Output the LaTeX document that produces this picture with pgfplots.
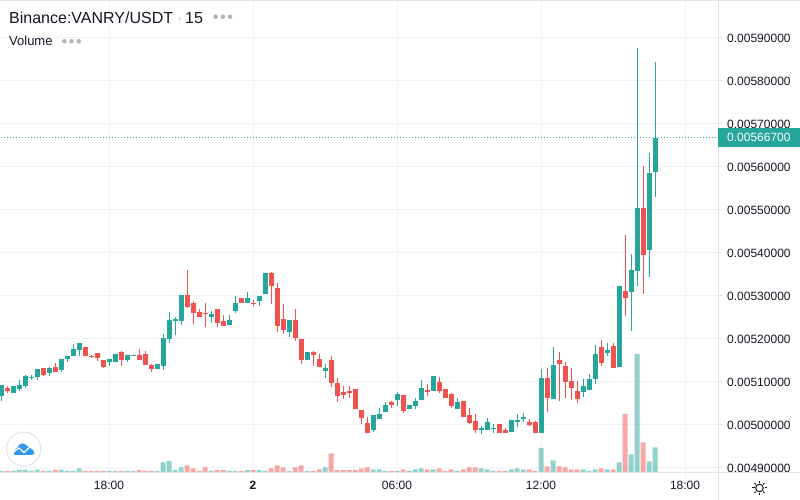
\documentclass[border=0pt]{standalone}
\usepackage{pgfplots}
\usepackage{pgfplotstable}
\usepackage{fontspec}
\usetikzlibrary{calc}
\setmainfont{Liberation Sans}
\pgfplotsset{compat=1.18}
\definecolor{up}{HTML}{26A69A}
\definecolor{down}{HTML}{EF5350}
\definecolor{gridc}{HTML}{F0F3FA}
\definecolor{borderc}{HTML}{E0E3EB}
\definecolor{txt}{HTML}{131722}
\definecolor{dots}{HTML}{B2B5BE}
\definecolor{logoc}{HTML}{3498EE}
\pgfplotstableread{
i top bot hi lo vol
0 0.0050930 0.0050674 0.0050930 0.0050558 1
2 0.0050907 0.0050744 0.0050907 0.0050744 1
3 0.0050930 0.0050837 0.0051047 0.0050791 2.3
4 0.0051140 0.0050907 0.0051163 0.0050860 2.3
5 0.0051116 0.0051093 0.0051163 0.0051047 1
6 0.0051302 0.0051116 0.0051302 0.0051047 2.3
8 0.0051326 0.0051209 0.0051349 0.0051140 1
10 0.0051535 0.0051279 0.0051535 0.0051233 2.3
11 0.0051605 0.0051535 0.0051605 0.0051465 1
12 0.0051767 0.0051605 0.0051884 0.0051605 1
13 0.0051907 0.0051744 0.0051907 0.0051605 3.5
18 0.0051535 0.0051465 0.0051535 0.0051372 1
19 0.0051651 0.0051465 0.0051651 0.0051465 1
21 0.0051628 0.0051512 0.0051628 0.0051465 1
22 0.0051628 0.0051605 0.0051628 0.0051605 1
26 0.0051419 0.0051302 0.0051419 0.0051302 1
27 0.0052023 0.0051372 0.0052116 0.0051279 9.5
28 0.0052442 0.0052000 0.0052628 0.0051907 11
29 0.0052465 0.0052419 0.0052512 0.0052093 2
30 0.0053023 0.0052419 0.0053023 0.0052326 4.5
35 0.0052581 0.0052512 0.0052651 0.0052372 1
38 0.0052442 0.0052326 0.0052558 0.0052326 1
39 0.0052837 0.0052651 0.0053000 0.0052605 1
41 0.0052953 0.0052837 0.0053093 0.0052837 2
43 0.0053000 0.0052884 0.0053000 0.0052767 2
44 0.0053535 0.0053047 0.0053535 0.0053047 1
48 0.0052442 0.0052163 0.0052442 0.0052047 1
51 0.0051698 0.0051512 0.0051698 0.0051512 1
54 0.0051326 0.0051256 0.0051419 0.0051093 4.5
62 0.0050233 0.0049884 0.0050233 0.0049837 2.5
63 0.0050256 0.0050140 0.0050395 0.0050140 2.5
64 0.0050465 0.0050302 0.0050535 0.0050302 1
66 0.0050721 0.0050581 0.0050767 0.0050442 1
68 0.0050465 0.0050372 0.0050465 0.0050372 1
69 0.0050558 0.0050442 0.0050628 0.0050372 2.5
70 0.0050860 0.0050581 0.0051047 0.0050581 3.5
72 0.0051140 0.0050791 0.0051140 0.0050791 2.5
76 0.0050535 0.0050372 0.0050628 0.0050372 1
80 0.0049930 0.0049884 0.0049977 0.0049791 3.5
81 0.0050070 0.0049884 0.0050163 0.0049884 2.5
82 0.0049930 0.0049907 0.0050023 0.0049814 1
85 0.0050116 0.0049837 0.0050116 0.0049837 2.5
86 0.0050116 0.0050070 0.0050256 0.0049953 3.5
87 0.0050186 0.0050140 0.0050279 0.0050070 2.5
90 0.0051093 0.0049814 0.0051302 0.0049814 24
92 0.0051395 0.0050605 0.0051814 0.0050605 11.5
97 0.0050907 0.0050767 0.0051070 0.0050651 2.5
98 0.0051070 0.0050814 0.0051186 0.0050814 1
99 0.0051651 0.0051070 0.0051860 0.0050953 2.5
101 0.0051744 0.0051674 0.0051907 0.0051605 2.5
103 0.0053233 0.0051349 0.0053233 0.0051349 9.5
105 0.0053605 0.0053093 0.0053977 0.0052186 17.5
106 0.0055047 0.0053581 0.0058767 0.0053233 118
108 0.0055860 0.0054070 0.0056326 0.0053442 10.5
109 0.0056670 0.0055884 0.0058442 0.0055302 24.5
}\greentable
\pgfplotstableread{
i top bot hi lo vol
1 0.0050860 0.0050791 0.0050907 0.0050744 1
7 0.0051326 0.0051163 0.0051326 0.0051140 1
9 0.0051349 0.0051233 0.0051442 0.0051233 2.3
14 0.0051814 0.0051605 0.0051814 0.0051605 1
15 0.0051605 0.0051581 0.0051628 0.0051558 1
16 0.0051674 0.0051558 0.0051674 0.0051488 1
17 0.0051512 0.0051349 0.0051512 0.0051326 1
20 0.0051698 0.0051512 0.0051721 0.0051372 1
23 0.0051628 0.0051512 0.0051767 0.0051512 2
24 0.0051651 0.0051395 0.0051721 0.0051395 1
25 0.0051395 0.0051302 0.0051419 0.0051233 1
31 0.0053023 0.0052744 0.0053605 0.0052721 6.5
32 0.0052837 0.0052605 0.0052884 0.0052349 3.5
33 0.0052628 0.0052512 0.0052698 0.0052512 1
34 0.0052605 0.0052581 0.0052837 0.0052279 4.5
36 0.0052698 0.0052372 0.0052698 0.0052279 2
37 0.0052419 0.0052302 0.0052558 0.0052302 2
40 0.0052953 0.0052837 0.0052953 0.0052837 1
42 0.0052837 0.0052814 0.0052907 0.0052767 2
45 0.0053535 0.0053233 0.0053558 0.0052814 3.5
46 0.0053186 0.0052302 0.0053302 0.0052163 6.5
47 0.0052465 0.0052209 0.0052814 0.0052116 4.5
49 0.0052442 0.0052023 0.0052698 0.0051953 4.5
50 0.0052000 0.0051512 0.0052000 0.0051419 6.5
52 0.0051698 0.0051628 0.0051721 0.0051372 1
53 0.0051535 0.0051349 0.0051651 0.0051349 2.5
55 0.0051512 0.0050977 0.0051605 0.0050884 18.5
56 0.0050977 0.0050674 0.0051093 0.0050535 2
57 0.0050767 0.0050698 0.0050907 0.0050605 2
58 0.0050791 0.0050744 0.0050907 0.0050628 2
59 0.0050837 0.0050372 0.0050837 0.0050372 2
60 0.0050349 0.0050163 0.0050349 0.0050023 3.5
61 0.0050047 0.0049814 0.0050186 0.0049814 4.5
65 0.0050535 0.0050465 0.0050558 0.0050395 1
67 0.0050698 0.0050326 0.0050698 0.0050279 2.5
71 0.0050814 0.0050767 0.0050953 0.0050674 2.5
73 0.0051000 0.0050791 0.0051116 0.0050744 3.5
74 0.0050837 0.0050628 0.0050837 0.0050628 1
75 0.0050721 0.0050442 0.0050744 0.0050395 2.5
77 0.0050558 0.0050186 0.0050558 0.0050186 2.5
78 0.0050233 0.0050047 0.0050395 0.0050023 4.5
79 0.0050093 0.0049884 0.0050256 0.0049814 4.5
83 0.0050023 0.0049814 0.0050023 0.0049814 1
84 0.0049884 0.0049814 0.0049930 0.0049814 1
88 0.0050070 0.0050000 0.0050140 0.0049977 2.5
89 0.0050070 0.0049814 0.0050093 0.0049814 1
91 0.0051093 0.0050628 0.0051326 0.0050302 5.5
93 0.0051512 0.0051419 0.0051698 0.0050558 5.5
94 0.0051372 0.0051000 0.0051465 0.0050628 4.5
95 0.0051023 0.0050860 0.0051326 0.0050581 2.5
96 0.0050791 0.0050605 0.0051023 0.0050512 2.5
100 0.0051814 0.0051442 0.0051977 0.0051372 3.5
102 0.0051837 0.0051326 0.0051907 0.0051326 2.5
104 0.0053116 0.0052953 0.0054419 0.0052535 58
107 0.0055047 0.0053953 0.0056023 0.0053047 29.5
}\redtable
\pgfplotsset{
  base/.style={
    at={(0bp,28bp)}, anchor=south west, scale only axis,
    width=718bp, height=472bp,
    xmin=-0.1667, xmax=119.5, clip=true},
  price/.style={ymin=0.00488953, ymax=0.00598721},
  wick/.style={draw=none, forget plot,
    /pgfplots/error bars/y dir=plus, /pgfplots/error bars/y explicit, /pgfplots/error bars/error mark=none,
    /pgfplots/error bars/error bar style={line width=1bp, draw=#1, line cap=butt}},
  body/.style={draw=none, forget plot,
    /pgfplots/error bars/y dir=minus, /pgfplots/error bars/y explicit, /pgfplots/error bars/error mark=none,
    /pgfplots/error bars/error bar style={line width=5bp, draw=#1, line cap=butt}},
}
\begin{document}
\begin{tikzpicture}[x=1bp,y=1bp]
\path[use as bounding box] (0,0) rectangle (800,500);
\fill[white] (0,0) rectangle (800,500);
% grid, ticks and scales
\begin{axis}[base, price,
  axis line style={draw=none},
  axis x line*=bottom, axis y line*=right,
  xtick={18,42,66,90,114},
  xticklabels={18:00,\textbf{2},06:00,12:00,18:00},
  ytick={0.0049,0.005,0.0051,0.0052,0.0053,0.0054,0.0055,0.0056,0.0057,0.0058,0.0059},
  scaled y ticks=false,
  yticklabel style={/pgf/number format/fixed, /pgf/number format/fixed zerofill, /pgf/number format/precision=8, /pgf/number format/assume math mode=true},
  y tick label style={font=\fontsize{12bp}{14bp}\selectfont, text=txt, inner sep=0pt, anchor=west, xshift=5bp, yshift=-0.7bp},
  x tick label style={font=\fontsize{12bp}{14bp}\selectfont, text=txt, inner sep=0pt, anchor=base, yshift=-13.5bp},
  tick align=outside, major tick length=4bp,
  tick style={draw=borderc, line width=1bp},
  grid=major, grid style={draw=gridc, line width=1bp},
]
\addplot[up, line width=0.8bp, dash pattern=on 1bp off 2bp, forget plot] coordinates {(-1,0.005667) (120,0.005667)};
\end{axis}
% volume
\begin{axis}[base, hide axis, ymin=0, ymax=472]
\addplot[ybar, bar width=5bp, bar shift=0pt, fill=up, fill opacity=0.5, draw=none] table[x=i,y=vol] {\greentable};
\addplot[ybar, bar width=5bp, bar shift=0pt, fill=down, fill opacity=0.5, draw=none] table[x=i,y=vol] {\redtable};
\end{axis}
% candles
\begin{axis}[base, price, hide axis, at={(0bp,27.5bp)}]
\addplot[wick=up] table[x=i,y=lo,y error plus expr=\thisrow{hi}-\thisrow{lo}] {\greentable};
\addplot[body=up] table[x=i,y=top,y error minus expr=\thisrow{top}-\thisrow{bot}] {\greentable};
\addplot[wick=down] table[x=i,y=lo,y error plus expr=\thisrow{hi}-\thisrow{lo}] {\redtable};
\addplot[body=down] table[x=i,y=top,y error minus expr=\thisrow{top}-\thisrow{bot}] {\redtable};
\end{axis}
% frame
\draw[borderc, line width=1bp] (0,27.5) -- (800,27.5);
\draw[borderc, line width=1bp] (718.5,0) -- (718.5,500);
\draw[borderc, line width=0.7bp] (0,499.7) -- (800,499.7);
% last price
\fill[up] (718,353) rectangle (800,372);
\node[anchor=base west, inner sep=0pt, text=white, font=\fontsize{12bp}{14bp}\selectfont] at (727,358) {0.00566700};
% titles
\node[anchor=base west, inner sep=0pt, text=txt, font=\fontsize{16bp}{18bp}\selectfont] at (9,476.7) {Binance:VANRY/USDT};
\node[anchor=base west, inner sep=0pt, text=dots, font=\fontsize{16bp}{18bp}\selectfont] at (176.8,476.7) {·};
\node[anchor=base west, inner sep=0pt, text=txt, font=\fontsize{16bp}{18bp}\selectfont] at (185,476.7) {15};
\node[anchor=base west, inner sep=0pt, text=txt, font=\fontsize{13bp}{15bp}\selectfont] at (9,454.3) {Volume};
\foreach \a in {215.7,222.8,230} \fill[dots] (\a,483.3) circle (2.3);
\foreach \a in {64.3,71.5,78.7} \fill[dots] (\a,458.7) circle (2.3);
% logo
\draw[borderc, fill=white, line width=1bp] (23.7,51) circle (17);
\fill[logoc, rounded corners=2.5bp]
  (13.3,45) -- (13.3,49) -- (17,51.5) -- (19.5,56) -- (24,57) -- (28,53) -- (31.5,52) -- (34.3,48) -- (34.3,45) -- cycle;
\draw[white, line width=1.2bp] (12.5,47) -- (19,52) -- (24,47.5) -- (30,53) -- (35,50);
% settings icon
\draw[txt, line width=1bp] (759.5,12) circle (3.8);
\foreach \t in {0,45,...,315} \draw[txt, line width=1bp] ($(759.5,12)+(\t:5)$) -- ($(759.5,12)+(\t:7.2)$);
\end{tikzpicture}
\end{document}
